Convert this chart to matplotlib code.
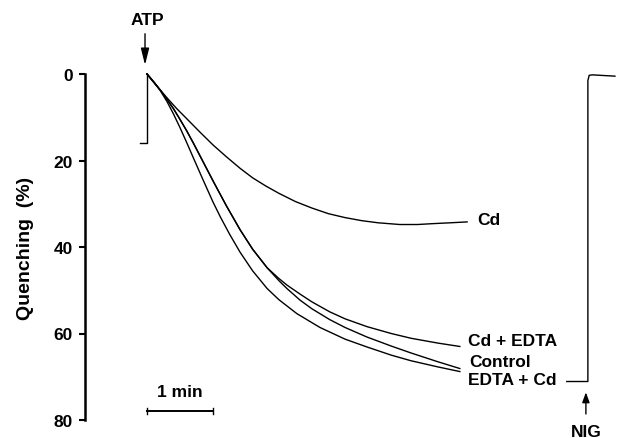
import matplotlib
matplotlib.use("Agg")
import matplotlib.pyplot as plt

plt.rcParams['font.family'] = ['Liberation Sans', 'DejaVu Sans']
plt.rcParams['font.weight'] = 'bold'

# time in minutes after ATP addition, quenching in %
t_cd = [0, 0.1, 0.2, 0.32, 0.45, 0.6, 0.8, 1.0, 1.2, 1.41, 1.6, 1.8, 2.0, 2.25, 2.5, 2.75,
        3.0, 3.25, 3.5, 3.83, 4.1, 4.33, 4.6, 4.85]
q_cd = [0, 1.9, 3.7, 5.8, 8.0, 10.3, 13.4, 16.4, 19.1, 21.8, 24.0, 25.9, 27.6, 29.5, 31.0, 32.3,
        33.2, 33.9, 34.4, 34.8, 34.8, 34.6, 34.4, 34.2]

t_cdedta = [0, 0.1, 0.2, 0.3, 0.4, 0.5, 0.6, 0.7, 0.85, 1.0, 1.2, 1.41, 1.6, 1.82, 2.0, 2.12,
            2.32, 2.5, 2.77, 3.0, 3.33, 3.7, 4.0, 4.4, 4.74]
q_cdedta = [0, 1.8, 3.7, 5.8, 8.0, 10.5, 13.1, 15.9, 20.3, 24.7, 30.4, 36.0, 40.5, 44.8, 47.3, 48.8,
            50.9, 52.7, 55.0, 56.6, 58.4, 60.0, 61.1, 62.2, 63.0]

t_control = [0, 0.1, 0.2, 0.3, 0.4, 0.5, 0.6, 0.7, 0.85, 1.0, 1.2, 1.41, 1.6, 1.82, 2.0, 2.12,
             2.32, 2.5, 2.77, 3.0, 3.33, 3.7, 4.0, 4.4, 4.74]
q_control = [0, 1.8, 3.7, 5.8, 8.0, 10.5, 13.1, 15.9, 20.3, 24.7, 30.4, 36.0, 40.5, 44.8, 47.8, 49.6,
             52.3, 54.3, 56.8, 58.6, 60.8, 62.9, 64.5, 66.5, 68.1]

t_edtacd = [0, 0.1, 0.2, 0.3, 0.4, 0.5, 0.6, 0.7, 0.85, 1.0, 1.11, 1.25, 1.41, 1.6, 1.82, 2.0,
            2.27, 2.62, 3.0, 3.33, 3.7, 4.0, 4.4, 4.74]
q_edtacd = [0, 1.8, 3.8, 6.3, 9.2, 12.4, 15.8, 19.3, 24.5, 29.6, 33.0, 37.0, 41.2, 45.5, 49.6, 52.2,
            55.4, 58.6, 61.3, 63.1, 65.0, 66.3, 67.7, 68.8]

t_pre = [-0.106, 0, 0]
q_pre = [16, 16, 0]

t_nig = [6.36, 6.68, 6.68, 6.70, 6.75, 7.09]
q_nig = [71.1, 71.1, 1.5, 0.3, 0.2, 0.5]

trace_labels = ["Cd", "Cd + EDTA", "Control", "EDTA + Cd"]
label_pos = [(5.0, 33.6), (4.86, 61.7), (4.88, 66.4), (4.86, 70.7)]
yticks = [0, 20, 40, 60, 80]

W, H = 620, 439
fig = plt.figure(figsize=(W / 100, H / 100), dpi=100)
left_px, right_px, top_px, bot_px = 85, 620, 75, 421
ax = fig.add_axes([left_px / W, (H - bot_px) / H, (right_px - left_px) / W, (bot_px - top_px) / H])
px_per_min = 66
x0_px = 147
ax.set_xlim((left_px - x0_px) / px_per_min, (right_px - x0_px) / px_per_min)
ax.set_ylim(80, 0)

lw = 1.0
for tt, qq in [(t_cd, q_cd), (t_cdedta, q_cdedta), (t_control, q_control), (t_edtacd, q_edtacd), (t_pre, q_pre), (t_nig, q_nig)]:
    ax.plot(tt, qq, color='black', lw=lw, clip_on=False, solid_joinstyle='round')

fs = 12.5
for lab, (x, y) in zip(trace_labels, label_pos):
    ax.text(x, y, lab, fontsize=fs, fontweight='bold', ha='left', va='center', clip_on=False)

for s in ['top', 'right', 'bottom']:
    ax.spines[s].set_visible(False)
ax.spines['left'].set_linewidth(1.8)
ax.set_xticks([])
ax.set_yticks(yticks)
ax.set_yticklabels([str(v) for v in yticks], fontsize=fs, fontweight='bold')
ax.tick_params(axis='y', length=4, width=1.5, pad=5)
ax.set_ylabel('Quenching  (%)', fontsize=14, fontweight='bold', labelpad=14)

# ATP arrow
ax.annotate('', xy=(-0.03, -2.1), xytext=(-0.03, -9.3), annotation_clip=False,
            arrowprops=dict(arrowstyle='-|>,head_length=1.0,head_width=0.25', color='black', lw=1,
                            shrinkA=0, shrinkB=0))
ax.text(0.0, -12.5, 'ATP', fontsize=fs, fontweight='bold', ha='center', va='center', clip_on=False)

# NIG arrow
ax.annotate('', xy=(6.65, 73.6), xytext=(6.65, 78.6), annotation_clip=False,
            arrowprops=dict(arrowstyle='-|>,head_length=0.6,head_width=0.22', color='black', lw=1,
                            shrinkA=0, shrinkB=0))
ax.text(6.66, 82.7, 'NIG', fontsize=fs, fontweight='bold', ha='center', va='center', clip_on=False)

# scale bar 1 min
ax.plot([0, 1], [77.9, 77.9], color='black', lw=1.4, clip_on=False)
ax.plot([0, 0], [77.3, 78.5], color='black', lw=1, clip_on=False)
ax.plot([1, 1], [77.3, 78.5], color='black', lw=1, clip_on=False)
ax.text(0.5, 73.4, '1 min', fontsize=fs, fontweight='bold', ha='center', va='center', clip_on=False)

fig.savefig('out.png', dpi=100)
